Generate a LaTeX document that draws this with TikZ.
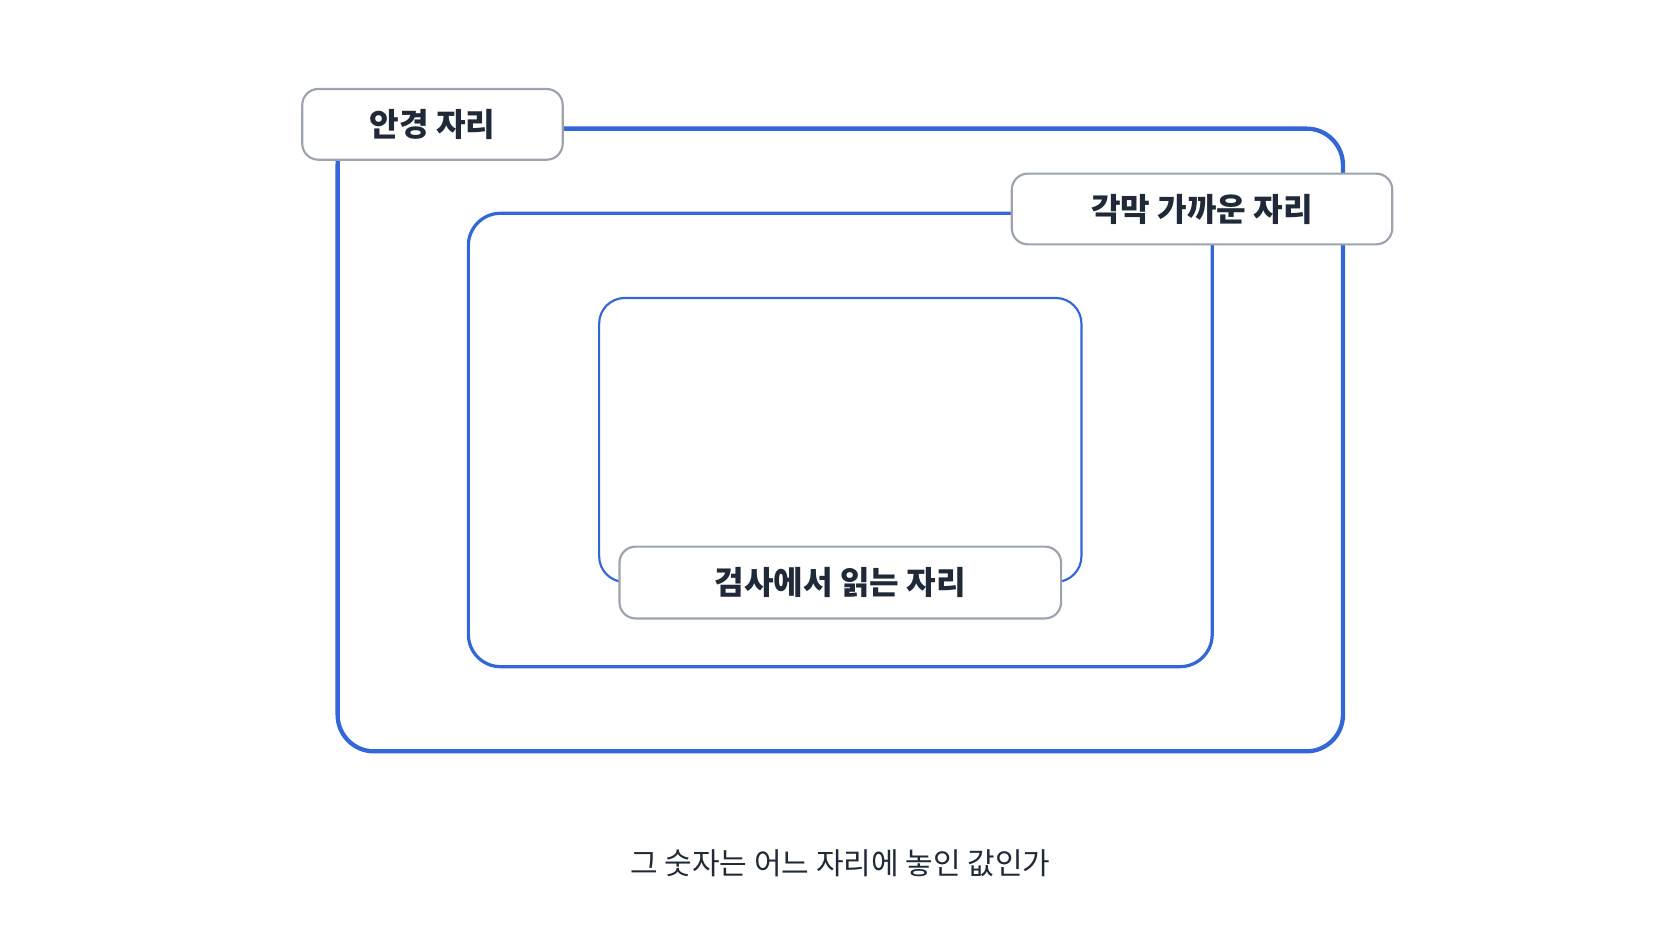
\documentclass[tikz,border=0pt]{standalone}
\usepackage{fontspec}
\setmainfont{Noto Sans CJK KR}
\usetikzlibrary{positioning}
\definecolor{ringblue}{HTML}{3366D6}
\definecolor{tagline}{HTML}{9CA3AF}
\definecolor{inkdark}{HTML}{1F2937}
\tikzset{
  ring/.style={draw=ringblue},
  tag/.style={draw=tagline, line width=1pt, fill=white, rounded corners=7.5pt,
    text=inkdark, font=\fontsize{15}{18}\selectfont\bfseries, inner sep=0pt}
}
\begin{document}
\begin{tikzpicture}[x=0.5pt,y=-0.5pt]
  \useasboundingbox (0,0) rectangle (1560,878);

  % rings
  \draw[ring, line width=2pt, rounded corners=17pt] (315,120) rectangle (1253,701);
  \draw[ring, line width=1.5pt, rounded corners=15pt] (437,199) rectangle (1131,622);
  \draw[ring, line width=1pt, rounded corners=12pt] (559,278) rectangle (1009,543);

  % tags
  \node[tag, minimum width=121.5pt, minimum height=33pt] at (403.5,116)(glasses){안경 자리};
  \node[tag, minimum width=177.5pt, minimum height=33pt] at (1121.5,195)(cornea){각막 가까운 자리};
  \node[tag, minimum width=206pt, minimum height=33.5pt] at (784,543.5)(exam){검사에서 읽는 자리};

  % caption
  \node[text=inkdark, font=\fontsize{14}{17}\selectfont] at (784,805)(question){그 숫자는 어느 자리에 놓인 값인가};
\end{tikzpicture}
\end{document}
